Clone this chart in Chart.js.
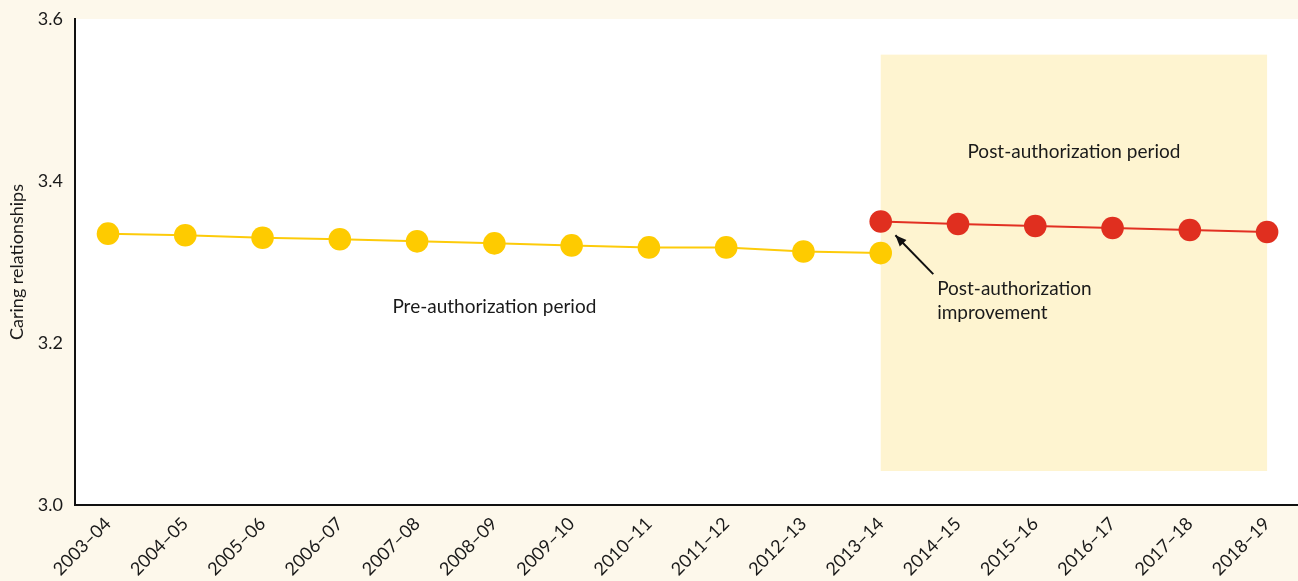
<!DOCTYPE html>
<html>
<head>
<meta charset="utf-8">
<script src="https://cdn.jsdelivr.net/npm/chart.js@4"></script>
<style>
html, body { margin: 0; padding: 0; background: #fdf8eb; }
#wrap { width: 1298px; height: 581px; position: relative; }
</style>
</head>
<body>
<div id="wrap"><canvas id="caring-chart"></canvas></div>
<script>
const years = ['2003–04', '2004–05', '2005–06', '2006–07', '2007–08', '2008–09', '2009–10', '2010–11',
	'2011–12', '2012–13', '2013–14', '2014–15', '2015–16', '2016–17', '2017–18', '2018–19'];
const preValues = [3.335, 3.333, 3.330, 3.328, 3.3255, 3.323, 3.3205, 3.318, 3.318, 3.313, 3.311];
const postValues = [3.350, 3.347, 3.3445, 3.342, 3.3395, 3.337];
const postStart = 10;
const yTicks = [3.0, 3.2, 3.4, 3.6];

const fontFamily = 'Lato, "Noto Sans", sans-serif';

// white plot area, shaded post period box, text notes and arrow
const extras = {
	id: 'extras',
	beforeDraw(chart) {
		const {ctx, chartArea: a} = chart;
		ctx.save();
		ctx.fillStyle = '#ffffff';
		ctx.fillRect(a.left, a.top, a.right - a.left, a.bottom - a.top);
		ctx.restore();
	},
	beforeDatasetsDraw(chart) {
		const {ctx, scales: {x, y}} = chart;
		ctx.save();
		ctx.fillStyle = '#fef4d0';
		const x0 = x.getPixelForValue(10), x1 = x.getPixelForValue(15);
		const y0 = y.getPixelForValue(3.556), y1 = y.getPixelForValue(3.042);
		ctx.fillRect(x0, y0, x1 - x0, y1 - y0);
		ctx.restore();
	},
	afterDatasetsDraw(chart) {
		const {ctx, scales: {x, y}} = chart;
		ctx.save();
		ctx.fillStyle = '#1a1a1a';
		ctx.font = '19px ' + fontFamily;
		ctx.textBaseline = 'middle';
		ctx.textAlign = 'center';
		ctx.fillText('Pre-authorization period', x.getPixelForValue(5), y.getPixelForValue(3.245));
		ctx.fillText('Post-authorization period', x.getPixelForValue(12.5), y.getPixelForValue(3.436));
		ctx.textAlign = 'left';
		const tx = x.getPixelForValue(10.73);
		ctx.fillText('Post-authorization', tx, y.getPixelForValue(3.267));
		ctx.fillText('improvement', tx, y.getPixelForValue(3.237));

		// arrow
		const ax = x.getPixelForValue(10.68), ay = y.getPixelForValue(3.285);
		const bx = x.getPixelForValue(10.19), by = y.getPixelForValue(3.333);
		ctx.strokeStyle = '#111';
		ctx.lineWidth = 2;
		ctx.beginPath();
		ctx.moveTo(ax, ay);
		ctx.lineTo(bx, by);
		ctx.stroke();
		const ang = Math.atan2(by - ay, bx - ax);
		ctx.beginPath();
		ctx.moveTo(bx, by);
		ctx.lineTo(bx - 12 * Math.cos(ang - 0.4), by - 12 * Math.sin(ang - 0.4));
		ctx.lineTo(bx - 12 * Math.cos(ang + 0.4), by - 12 * Math.sin(ang + 0.4));
		ctx.closePath();
		ctx.fillStyle = '#111';
		ctx.fill();
		ctx.restore();
	}
};

new Chart(document.getElementById('caring-chart'), {
	type: 'line',
	data: {
		datasets: [{
			data: preValues.map((v, i) => ({x: i, y: v})),
			borderColor: '#fdcb0a',
			backgroundColor: '#fecb00',
			borderWidth: 2,
			pointRadius: 11.3,
			pointBorderWidth: 0,
			pointHoverRadius: 11.3
		}, {
			data: postValues.map((v, i) => ({x: postStart + i, y: v})),
			borderColor: '#e23022',
			backgroundColor: '#e02f1f',
			borderWidth: 2,
			pointRadius: 11.3,
			pointBorderWidth: 0,
			pointHoverRadius: 11.3
		}]
	},
	options: {
		responsive: true,
		maintainAspectRatio: false,
		animation: false,
		layout: { autoPadding: false, padding: { top: 19, right: 0, left: 0, bottom: 0 } },
		plugins: { legend: { display: false }, tooltip: { enabled: false } },
		scales: {
			x: {
				type: 'linear',
				min: -0.427,
				max: 15.4,
				afterBuildTicks: axis => { axis.ticks = years.map((_, i) => ({value: i})); },
				afterFit: axis => {
					axis.height = 76;
					axis.paddingLeft = 0;
					axis.paddingRight = 0;
				},
				grid: { display: false, drawTicks: false },
				border: { display: true, color: '#111', width: 2 },
				ticks: {
					callback: v => years[v],
					minRotation: 45,
					maxRotation: 45,
					padding: 8,
					color: '#1a1a1a',
					font: { family: fontFamily, size: 18 }
				}
			},
			y: {
				min: 3.0,
				max: 3.6,
				afterBuildTicks: axis => { axis.ticks = yTicks.map(v => ({value: v})); },
				afterFit: axis => {
					axis.width = 75;
					axis.paddingTop = 0;
					axis.paddingBottom = 0;
				},
				grid: { display: false, drawTicks: false },
				border: { display: true, color: '#111', width: 2 },
				title: {
					display: true,
					text: 'Caring relationships',
					color: '#1a1a1a',
					font: { family: fontFamily, size: 18 },
					padding: { top: 6, bottom: 0 }
				},
				ticks: {
					callback: v => v.toFixed(1),
					padding: 12,
					color: '#1a1a1a',
					font: { family: fontFamily, size: 18 }
				}
			}
		}
	},
	plugins: [extras]
});
</script>
</body>
</html>
